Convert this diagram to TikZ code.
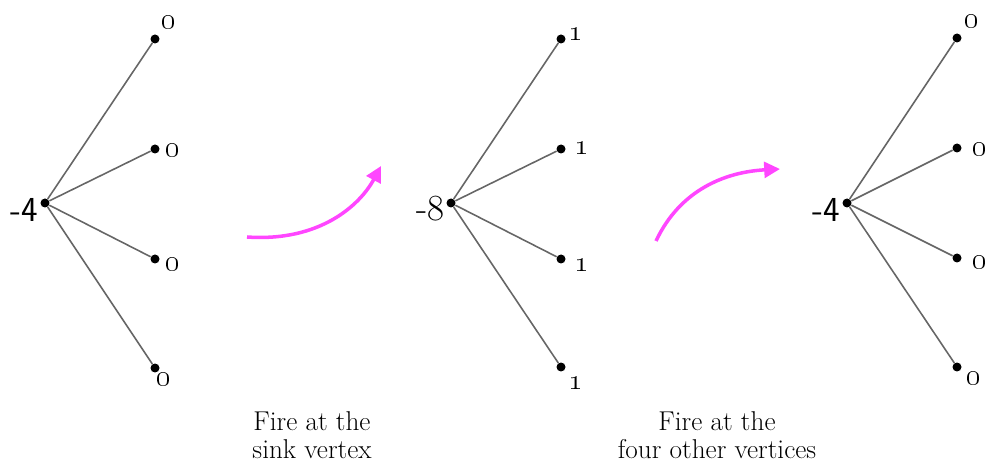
\documentclass[tikz,border=0pt]{standalone}
\usepackage{tikz}
\usetikzlibrary{arrows.meta,positioning}

\begin{document}
\begin{tikzpicture}[
  x=0.02cm, y=-0.02cm,
  vtx/.style={circle, fill=black, inner sep=0pt, minimum size=0.18cm},
  edg/.style={draw=black!60, line width=0.9pt},
  val/.style={font=\fontsize{18}{18}\selectfont, inner sep=0pt},
  sinkval/.style={font=\fontsize{21}{21}\selectfont, inner sep=0pt, anchor=east},
  fire/.style={-{Triangle[length=9pt,width=9pt]}, line width=2pt, draw=fireclr},
  captxt/.style={font=\fontsize{15.5}{16}\selectfont, align=center},
]
\definecolor{fireclr}{RGB}{255,70,255}
\useasboundingbox (0,0) rectangle (987,462);

%% ---- Column spacing (sink x)
\def\ga{45}  % before
\def\gb{451} % after firing the sink
\def\gc{847} % after firing the others

%% ======== GRAPH 1 ========
\node[vtx] (s1) at (\ga,203) {};
\node[vtx] (a1) at (\ga+110,39) {};
\node[vtx] (a2) at (\ga+110,149) {};
\node[vtx] (a3) at (\ga+110,259) {};
\node[vtx] (a4) at (\ga+110,368) {};
\draw[edg] (s1) -- (a1);
\draw[edg] (s1) -- (a2);
\draw[edg] (s1) -- (a3);
\draw[edg] (s1) -- (a4);

\node[sinkval, font=\fontsize{20}{20}\sffamily] (s1v) at (\ga-7,210) {-4};
\node[val] (a1v) at (\ga+124,22) {\oldstylenums{0}};
\node[val] (a2v) at (\ga+128,150) {\oldstylenums{0}};
\node[val] (a3v) at (\ga+128,264) {\oldstylenums{0}};
\node[val] (a4v) at (\ga+119,379) {\oldstylenums{0}};

%% ======== GRAPH 2 ========
\node[vtx] (s2) at (\gb,203) {};
\node[vtx] (b1) at (\gb+110,39) {};
\node[vtx] (b2) at (\gb+110,149) {};
\node[vtx] (b3) at (\gb+110,259) {};
\node[vtx] (b4) at (\gb+110,367) {};
\draw[edg] (s2) -- (b1);
\draw[edg] (s2) -- (b2);
\draw[edg] (s2) -- (b3);
\draw[edg] (s2) -- (b4);

\node[sinkval] (s2v) at (\gb-6,209) {-8};
\node[val] (b1v) at (\gb+125,34) {\oldstylenums{1}};
\node[val] (b2v) at (\gb+131,148) {\oldstylenums{1}};
\node[val] (b3v) at (\gb+131,265) {\oldstylenums{1}};
\node[val] (b4v) at (\gb+125,383) {\oldstylenums{1}};

%% ======== GRAPH 3 ========
\node[vtx] (s3) at (\gc,203) {};
\node[vtx] (c1) at (\gc+110,38) {};
\node[vtx] (c2) at (\gc+110,148) {};
\node[vtx] (c3) at (\gc+110,258) {};
\node[vtx] (c4) at (\gc+110,367) {};
\draw[edg] (s3) -- (c1);
\draw[edg] (s3) -- (c2);
\draw[edg] (s3) -- (c3);
\draw[edg] (s3) -- (c4);

\node[sinkval, font=\fontsize{20}{20}\sffamily] (s3v) at (\gc-7,210) {-4};
\node[val] (c1v) at (\gc+125,21) {\oldstylenums{0}};
\node[val] (c2v) at (\gc+133,149) {\oldstylenums{0}};
\node[val] (c3v) at (\gc+133,262) {\oldstylenums{0}};
\node[val] (c4v) at (\gc+127,378) {\oldstylenums{0}};

%% ---- Firing arrows
\coordinate (f1s) at (247,237);
\coordinate (f1e) at (381,166);
\draw[fire] (f1s) .. controls (320,242) and (360,205) .. (f1e);

\coordinate (f2s) at (656,241);
\coordinate (f2e) at (780,169);
\draw[fire] (f2s) .. controls (680,190) and (725,172) .. (f2e);

%% ---- Captions
\node[captxt] (t1) at (312,435) {Fire at the\\sink vertex};
\node[captxt] (t2) at (717,435) {Fire at the\\four other vertices};

\end{tikzpicture}
\end{document}
